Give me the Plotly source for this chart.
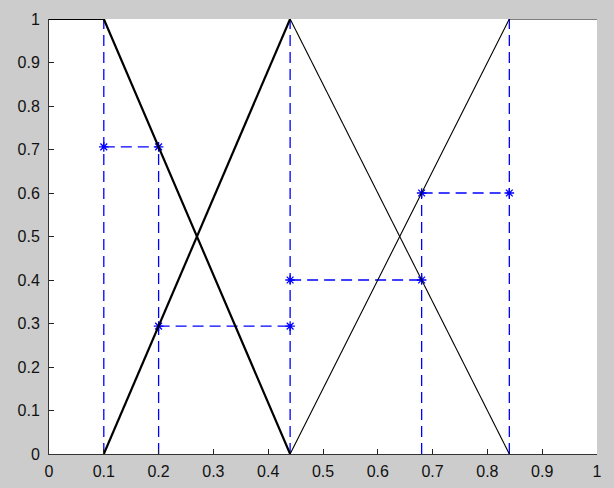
import plotly.graph_objects as go

# membership functions (black)
mf1_x = [0, 0.1, 0.44]
mf1_y = [1, 1, 0]
mf2_x = [0.1, 0.44]
mf2_y = [0, 1]
mf3_x = [0.44, 0.84]
mf3_y = [1, 0]
mf4_x = [0.44, 0.84, 1]
mf4_y = [0, 1, 1]

# blue dashed construction lines
v_x = [0.1, 0.2, 0.44, 0.68, 0.84]
v_top = [1, 0.706, 1, 0.6, 1]
h_y = [0.706, 0.294, 0.4, 0.6]
h_x0 = [0.1, 0.2, 0.44, 0.68]
h_x1 = [0.2, 0.44, 0.68, 0.84]

ticks = [round(i * 0.1, 1) for i in range(11)]
tick_text = ["0", "0.1", "0.2", "0.3", "0.4", "0.5", "0.6", "0.7", "0.8", "0.9", "1"]

BLUE = "#0000ff"

fig = go.Figure()

# dashed lines, one trace with gaps
lx, ly = [], []
for x, top in zip(v_x, v_top):
    lx += [x, x, None]
    ly += [0, top, None]
for y, a, b in zip(h_y, h_x0, h_x1):
    lx += [a, b, None]
    ly += [y, y, None]
fig.add_trace(go.Scatter(x=lx, y=ly, mode="lines",
                         line=dict(color=BLUE, width=1.3, dash="11px,6px"),
                         hoverinfo="skip"))

# star markers at the ends of horizontal segments
mx = h_x0 + h_x1
my = h_y + h_y
fig.add_trace(go.Scatter(x=mx, y=my, mode="markers", cliponaxis=False,
                         marker=dict(symbol="asterisk-open", size=8, color=BLUE,
                                     line=dict(color=BLUE, width=1.3))))

for xs, ys, w in [(mf1_x, mf1_y, 2.2), (mf2_x, mf2_y, 2.2),
                  (mf3_x, mf3_y, 1.1), (mf4_x, mf4_y, 1.1)]:
    fig.add_trace(go.Scatter(x=xs, y=ys, mode="lines",
                             line=dict(color="black", width=w)))

axis_style = dict(
    range=[0, 1],
    tickmode="array",
    tickvals=ticks,
    ticktext=tick_text,
    ticks="inside",
    ticklen=5,
    tickcolor="#222",
    showline=True,
    linecolor="#333",
    linewidth=1,
    mirror=False,
    showgrid=False,
    zeroline=False,
    automargin=False,
    tickfont=dict(family="Liberation Sans, Arial", size=16, color="#111"),
)

fig.update_layout(
    width=614,
    height=488,
    margin=dict(l=49, r=17, t=19, b=34),
    paper_bgcolor="#cccccc",
    plot_bgcolor="white",
    showlegend=False,
    xaxis=dict(axis_style, ticklabelstandoff=3),
    yaxis=dict(axis_style, ticklabelstandoff=5),
)

# page body has a default 8px margin; drop it so the figure fills the window
fig.write_html(
    "out.html",
    config={"displayModeBar": False},
    post_script="document.body.style.margin='0';document.body.style.background='#cccccc';",
)
